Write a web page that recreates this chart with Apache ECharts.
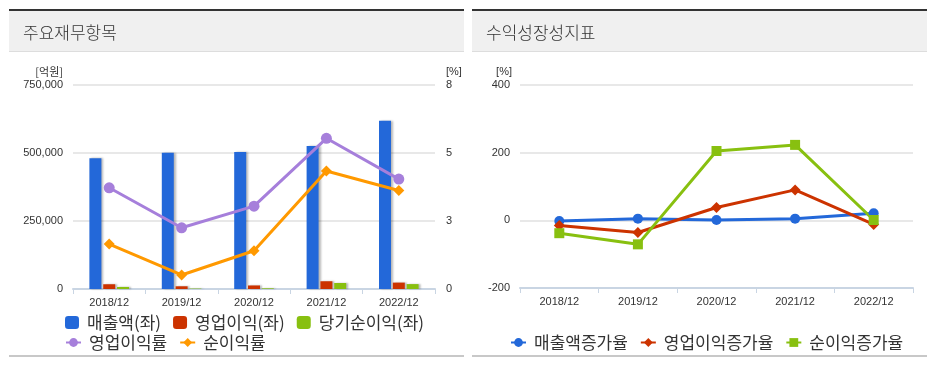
<!DOCTYPE html>
<html><head><meta charset="utf-8">
<script src="https://cdn.jsdelivr.net/npm/echarts@6/dist/echarts.min.js"></script>
<style>html,body{margin:0;padding:0;background:#fff}#c{width:932px;height:366px}</style>
</head><body><div id="c"></div>
<script>
const categories = ['2018/12','2019/12','2020/12','2021/12','2022/12'];
const revenue = [481000, 501000, 504000, 526000, 619000];
const opIncome = [17500, 10000, 13000, 28500, 23500];
const netIncome = [7500, 1500, 2500, 22000, 18000];
const opMargin = [3.97, 2.40, 3.25, 5.91, 4.31];
const netMargin = [1.76, 0.55, 1.50, 4.63, 3.86];
const revGrowth = [-2, 5, 1, 5, 21];
const opGrowth = [-15, -36, 38, 90, -12];
const netGrowth = [-38, -71, 205, 223, 1];
const titles = ['주요재무항목', '수익성장성지표'];
const barNames = ['매출액(좌)', '영업이익(좌)', '당기순이익(좌)'];
const marginNames = ['영업이익률', '순이익률'];
const growthNames = ['매출액증가율', '영업이익증가율', '순이익증가율'];

const FONT = '"Noto Sans CJK KR", "Noto Sans", sans-serif';
const NUMFONT = '"Liberation Sans", Arial, sans-serif';
const C = {blue:'#2368d9', red:'#cc3300', green:'#88c010', purple:'#a67fdb', orange:'#ff9900'};

const chart = echarts.init(document.getElementById('c'), null, {renderer:'canvas'});

function panel(x, w, title) {
  return [
    {type:'rect', shape:{x:x, y:11, width:w, height:40}, style:{fill:'#f0f0f0'}, silent:true},
    {type:'rect', shape:{x:x, y:9, width:w, height:2}, style:{fill:'#333333'}, silent:true},
    {type:'rect', shape:{x:x, y:51, width:w, height:1}, style:{fill:'#dddddd'}, silent:true},
    {type:'rect', shape:{x:x, y:355, width:w, height:2}, style:{fill:'#c8c8c8'}, silent:true},
    {type:'text', x:x+14, y:33, style:{text:title, fill:'#333', font:'300 17px ' + FONT, textVerticalAlign:'middle'}, silent:true}
  ];
}

const axisLabel = {color:'#333', fontSize:11, fontFamily:NUMFONT};
const xAxisBase = {
  type:'category', data:categories,
  axisLine:{onZero:false, lineStyle:{color:'#c9d5e3', width:2}},
  axisTick:{show:true, alignWithLabel:false, length:5, lineStyle:{color:'#c9d5e3', width:1}},
  axisLabel:Object.assign({margin:8}, axisLabel)
};
const splitLine = {show:true, lineStyle:{color:'#e8e8e8', width:2}};

const barShadow = {shadowColor:'rgba(0,0,0,0.28)', shadowBlur:2, shadowOffsetX:2, shadowOffsetY:0};
const legendText = {fontSize:17, color:'#333', fontFamily:FONT, padding:[0,0,0,3]};

const option = {
  animation:false,
  graphic: panel(9, 455, titles[0]).concat(panel(472, 455, titles[1])),
  grid:[
    {left:73, right:497, top:85, bottom:77},
    {left:520, right:19, top:85, bottom:78}
  ],
  xAxis:[
    Object.assign({gridIndex:0}, xAxisBase),
    Object.assign({gridIndex:1}, xAxisBase)
  ],
  yAxis:[
    {gridIndex:0, type:'value', min:0, max:750000, interval:250000, position:'left',
     name:'[억원]', nameLocation:'end', nameGap:8,
     nameTextStyle:{color:'#333', fontSize:11, fontFamily:FONT, align:'right', padding:[0,10,0,0]},
     axisLine:{show:false}, axisTick:{show:false},
     axisLabel:Object.assign({margin:10, formatter:v=>v.toLocaleString('en-US')}, axisLabel),
     splitLine:splitLine},
    {gridIndex:0, type:'value', min:0, max:8, interval:8/3, position:'right',
     name:'[%]', nameLocation:'end', nameGap:8,
     nameTextStyle:{color:'#333', fontSize:11, fontFamily:NUMFONT, align:'left', padding:[0,0,0,11]},
     axisLine:{show:false}, axisTick:{show:false},
     axisLabel:Object.assign({margin:11, formatter:v=>String(Math.round(v))}, axisLabel),
     splitLine:{show:false}},
    {gridIndex:1, type:'value', min:-200, max:400, interval:200, position:'left',
     name:'[%]', nameLocation:'end', nameGap:8,
     nameTextStyle:{color:'#333', fontSize:11, fontFamily:NUMFONT, align:'right', padding:[0,8,0,0]},
     axisLine:{show:false}, axisTick:{show:false},
     axisLabel:Object.assign({margin:10}, axisLabel),
     splitLine:splitLine}
  ],
  legend:[
    {left:65, top:314, padding:0, itemGap:12, itemWidth:14, itemHeight:13,
     textStyle:legendText, data:barNames.map(n=>({name:n, icon:'roundRect'}))},
    {left:65, top:334, padding:0, itemGap:12, itemWidth:15, itemHeight:11,
     textStyle:legendText, data:marginNames},
    {left:510, top:334, padding:0, itemGap:12, itemWidth:15, itemHeight:11,
     textStyle:legendText, data:growthNames}
  ],
  series:[
    {name:barNames[0], type:'bar', xAxisIndex:0, yAxisIndex:0, data:revenue, barWidth:12, barGap:'15%',
     itemStyle:Object.assign({color:C.blue}, barShadow)},
    {name:barNames[1], type:'bar', xAxisIndex:0, yAxisIndex:0, data:opIncome, barWidth:12, barGap:'15%',
     itemStyle:Object.assign({color:C.red}, barShadow)},
    {name:barNames[2], type:'bar', xAxisIndex:0, yAxisIndex:0, data:netIncome, barWidth:12, barGap:'15%',
     itemStyle:Object.assign({color:C.green}, barShadow)},
    {name:marginNames[0], type:'line', xAxisIndex:0, yAxisIndex:1, data:opMargin,
     symbol:'circle', symbolSize:11, lineStyle:{width:3, color:C.purple}, itemStyle:{color:C.purple}},
    {name:marginNames[1], type:'line', xAxisIndex:0, yAxisIndex:1, data:netMargin,
     symbol:'diamond', symbolSize:11, lineStyle:{width:3, color:C.orange}, itemStyle:{color:C.orange}},
    {name:growthNames[0], type:'line', xAxisIndex:1, yAxisIndex:2, data:revGrowth,
     symbol:'circle', symbolSize:10, lineStyle:{width:3, color:C.blue}, itemStyle:{color:C.blue}},
    {name:growthNames[1], type:'line', xAxisIndex:1, yAxisIndex:2, data:opGrowth,
     symbol:'diamond', symbolSize:11, lineStyle:{width:3, color:C.red}, itemStyle:{color:C.red}},
    {name:growthNames[2], type:'line', xAxisIndex:1, yAxisIndex:2, data:netGrowth,
     symbol:'rect', symbolSize:10, lineStyle:{width:3, color:C.green}, itemStyle:{color:C.green}}
  ]
};
chart.setOption(option);
</script></body></html>
